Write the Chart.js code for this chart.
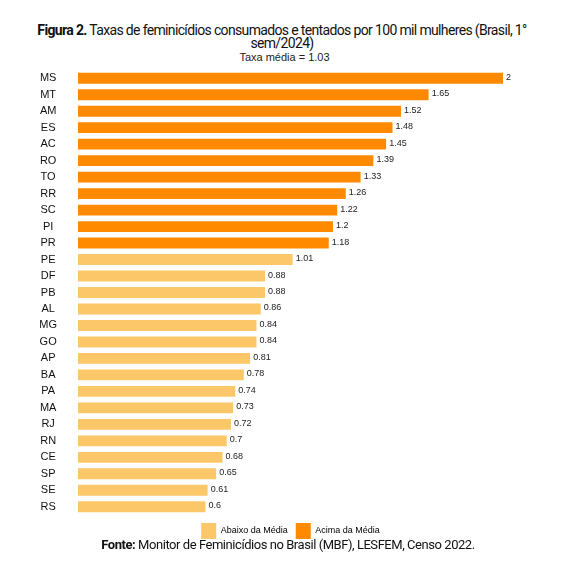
<!DOCTYPE html>
<html>
<head>
<meta charset="utf-8">
<script src="https://cdn.jsdelivr.net/npm/chart.js@4.4.1/dist/chart.umd.min.js"></script>
<style>
  html, body { margin: 0; padding: 0; background: #fff; }
  #wrap { position: relative; width: 569px; height: 567px; overflow: hidden; }
  .titulo { position: absolute; left: 0; top: 24px; width: 564px; text-align: center;
    font-family: Roboto, sans-serif; font-size: 14px; line-height: 13px; color: #111; letter-spacing: -0.65px; }
  .titulo b { font-weight: 700; }
  .sub { position: absolute; left: 0; top: 51px; width: 569px; text-align: center;
    font-family: "Liberation Sans", Arial, sans-serif; font-size: 11px; color: #222; }
  .fonte { position: absolute; left: 0; top: 537px; width: 576px; text-align: center;
    font-family: Roboto, sans-serif; font-size: 13px; color: #111; letter-spacing: -0.45px; }
  canvas { position: absolute; left: 0; top: 43px; }
</style>
</head>
<body>
<div id="wrap">
  <div class="titulo"><b>Figura 2.</b> Taxas de feminicídios consumados e tentados por 100 mil mulheres (Brasil, 1°<br>sem/2024)</div>
  <div class="sub">Taxa média = 1.03</div>
  <canvas id="grafico" width="569" height="508"></canvas>
  <div class="fonte"><b>Fonte:</b> Monitor de Feminicídios no Brasil (MBF), LESFEM, Censo 2022.</div>
</div>
<script>
const estados = ['MS','MT','AM','ES','AC','RO','TO','RR','SC','PI','PR','PE','DF','PB','AL','MG','GO','AP','BA','PA','MA','RJ','RN','CE','SP','SE','RS'];
const taxas = [2, 1.65, 1.52, 1.48, 1.45, 1.39, 1.33, 1.26, 1.22, 1.2, 1.18, 1.01, 0.88, 0.88, 0.86, 0.84, 0.84, 0.81, 0.78, 0.74, 0.73, 0.72, 0.7, 0.68, 0.65, 0.61, 0.6];
const taxaMedia = 1.03;
const corAcima = '#FF8A00';
const corAbaixo = '#FBC768';

// rotulos de valor na ponta de cada barra
const rotulos = {
  id: 'rotulos',
  afterDatasetsDraw(chart) {
    const ctx = chart.ctx;
    const meta = chart.getDatasetMeta(0);
    ctx.save();
    ctx.font = '9px "Liberation Sans", Arial, sans-serif';
    ctx.fillStyle = '#222';
    ctx.textBaseline = 'middle';
    ctx.textAlign = 'left';
    meta.data.forEach((bar, i) => {
      ctx.fillText(String(taxas[i]), bar.x + 3, bar.y - 1);
    });
    ctx.restore();
  }
};

new Chart(document.getElementById('grafico').getContext('2d'), {
  type: 'bar',
  data: {
    labels: estados,
    datasets: [{
      data: taxas,
      backgroundColor: taxas.map(v => v > taxaMedia ? corAcima : corAbaixo),
      barPercentage: 0.66,
      categoryPercentage: 1
    }]
  },
  options: {
    indexAxis: 'y',
    responsive: false,
    animation: false,
    layout: { padding: { top: 27, right: 66, left: 0, bottom: 2 } },
    scales: {
      x: { display: false, min: 0, max: 2 },
      y: {
        grid: { display: false },
        border: { display: false },
        afterFit(scale) {
          scale.width = 78;
          // o padding dos ticks nao deve empurrar a area do grafico
          scale.paddingTop = 0;
          scale.paddingBottom = 0;
        },
        ticks: {
          autoSkip: false,
          crossAlign: 'center',
          padding: 13,
          color: '#111',
          font: { family: '"Liberation Sans", Arial, sans-serif', size: 11 }
        }
      }
    },
    plugins: {
      tooltip: { enabled: false },
      legend: {
        position: 'bottom',
        fullSize: false,
        labels: {
          boxWidth: 15,
          boxHeight: 16,
          padding: 8,
          color: '#333',
          font: { family: '"Liberation Sans", Arial, sans-serif', size: 9 },
          generateLabels() {
            return [
              { text: 'Abaixo da Média', fillStyle: corAbaixo, strokeStyle: corAbaixo, lineWidth: 0, hidden: false },
              { text: 'Acima da Média', fillStyle: corAcima, strokeStyle: corAcima, lineWidth: 0, hidden: false }
            ];
          }
        }
      }
    }
  },
  plugins: [rotulos]
});
</script>
</body>
</html>
